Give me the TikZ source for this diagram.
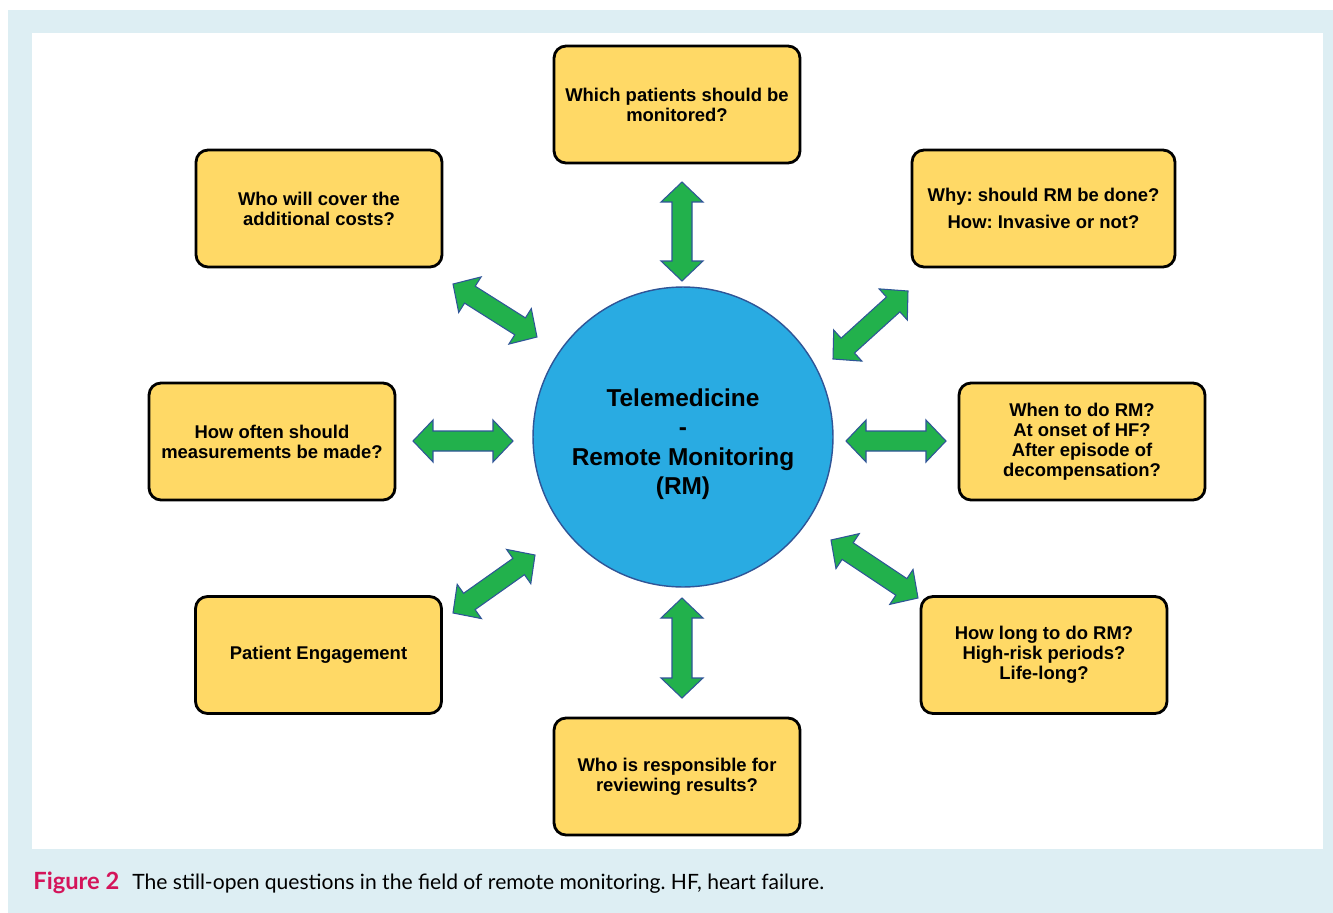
\documentclass[tikz,border=0pt]{standalone}
\usepackage{fontspec}
\setmainfont{Liberation Sans}
\newfontfamily\capfont{Lato}
\usetikzlibrary{calc}
\frenchspacing

\definecolor{panelblue}{HTML}{DDEEF3}
\definecolor{boxyellow}{HTML}{FFD966}
\definecolor{rmblue}{HTML}{29ABE2}
\definecolor{rmline}{HTML}{2F5597}
\definecolor{arrgreen}{HTML}{22B14C}
\definecolor{figred}{HTML}{D4145A}

% double block arrow between two named coordinates
\newcommand{\dblarrow}[2]{%
  \coordinate (H1) at ($(#1)!0.4cm!(#2)$);
  \coordinate (H2) at ($(#2)!0.4cm!(#1)$);
  \filldraw[arrowbody] (#1)
    -- ($(H1)!0.42cm!90:(#2)$) -- ($(H1)!0.2cm!90:(#2)$)
    -- ($(H2)!0.2cm!-90:(#1)$) -- ($(H2)!0.42cm!-90:(#1)$)
    -- (#2)
    -- ($(H2)!0.42cm!90:(#1)$) -- ($(H2)!0.2cm!90:(#1)$)
    -- ($(H1)!0.2cm!-90:(#2)$) -- ($(H1)!0.42cm!-90:(#2)$)
    -- cycle;
}

\begin{document}
\begin{tikzpicture}[x=0.02cm,y=-0.02cm,
    question/.style={draw=black, line width=1.6pt, fill=boxyellow,
      rounded corners=0.24cm, minimum width=4.92cm, minimum height=2.34cm,
      align=center, font=\bfseries\fontsize{10.5}{11.4}\selectfont},
    arrowbody/.style={fill=arrgreen, draw=rmline, line width=0.6pt, line join=miter}]
  \useasboundingbox (0,0) rectangle (1333,913);

  %% Background panel
  \fill[panelblue] (8,10) rectangle (1333,913);
  \fill[white] (32,33) rectangle (1323,849);

  %% Central circle
  \node[circle, fill=rmblue, draw=rmline, line width=0.8pt, minimum size=6cm,
        font=\bfseries\fontsize{13.9}{16.8}\selectfont]
        (RM) at (683,437)
        {\raisebox{-0.28cm}[0pt][0pt]{\begin{tabular}{@{}c@{}}Telemedicine\\-\\Remote Monitoring\\(RM)\end{tabular}}};

  %% Question boxes
  \node[question] (Qwhich)  at (677,104.5) {Which patients should be\\monitored?};
  \node[question] (Qcost)   at (319,208.5) {Who will cover the\\additional costs?};
  \node[question, minimum width=5.26cm] (Qwhy) at (1043.5,208.5)
        {Why: should RM be done?\\[0.14cm]How: Invasive or not?};
  \node[question] (Qoften)  at (272,441.5) {How often should\\measurements be made?};
  \node[question] (Qwhen)   at (1082,441.5) {When to do RM?\\At onset of HF?\\After episode of\\decompensation?};
  \node[question] (Qengage) at (318.5,655) {Patient Engagement};
  \node[question] (Qlong)   at (1044,655) {How long to do RM?\\High-risk periods?\\Life-long?};
  \node[question] (Qwho)    at (677,776.5) {Who is responsible for\\reviewing results?};

  %% Double arrows around the circle
  \foreach \n/\ax/\ay/\bx/\by in {T/682/182/682/281, B/682/598/682/698,
      L/413/441/513/441, R/846/441/946/441, TL/453/284/537/337,
      TR/833/359/908/291, BL/453/613/535/555, BR/831/540/918/598}
  {
    \coordinate (\n-a) at (\ax,\ay);
    \coordinate (\n-b) at (\bx,\by);
    \dblarrow{\n-a}{\n-b}
  }

  %% Caption
  \node[anchor=west, inner sep=0pt, font=\capfont\fontsize{12}{14}\selectfont]
        (caption) at (33,883)
        {{\color{figred}\bfseries\fontsize{13.5}{14}\selectfont Figure 2}\hspace{0.26cm}The still-open questions in the field of remote monitoring. HF, heart failure.};
\end{tikzpicture}
\end{document}
